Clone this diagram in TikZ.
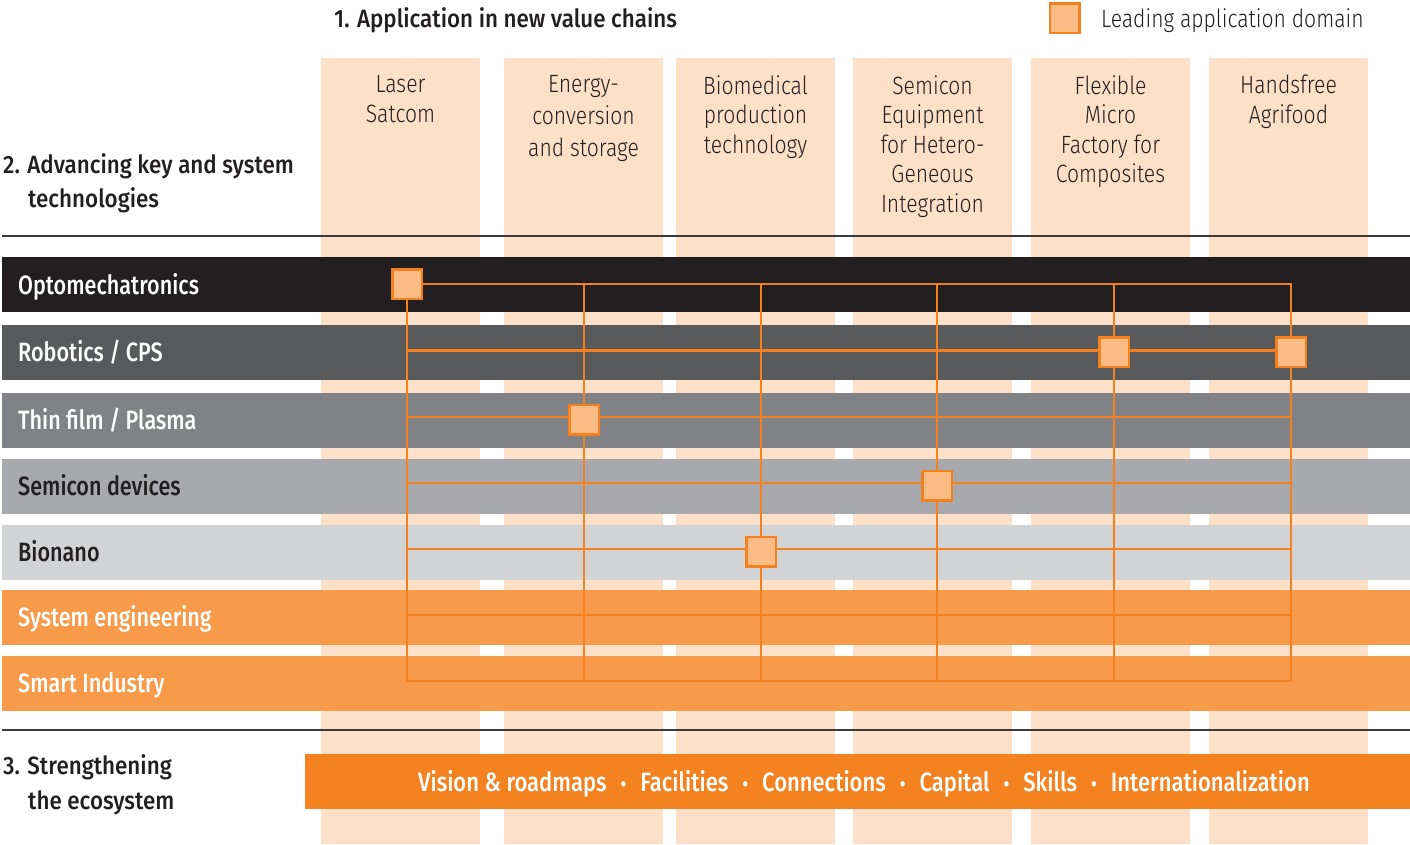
\documentclass[tikz,border=0pt]{standalone}
\usepackage{fontspec}
\setmainfont{Fira Sans}[FakeStretch=0.8]
\newfontfamily\lightf{Fira Sans Light}[FakeStretch=0.845]
\newfontfamily\medf{Fira Sans Medium}[FakeStretch=0.815]
\newfontfamily\ecof{Fira Sans Medium}[FakeStretch=0.83]
\newfontfamily\headf{Fira Sans Medium}[FakeStretch=0.895]
\definecolor{peach}{HTML}{FDE0C7}
\definecolor{rowA}{HTML}{231F20}
\definecolor{rowB}{HTML}{58595B}
\definecolor{rowC}{HTML}{808285}
\definecolor{rowD}{HTML}{A7A9AC}
\definecolor{rowE}{HTML}{D1D3D4}
\definecolor{rowF}{HTML}{F79A49}
\definecolor{ecobar}{HTML}{F48221}
\definecolor{gridor}{HTML}{F48120}
\definecolor{sqfill}{HTML}{FBBB85}
\definecolor{darktext}{HTML}{231F20}
\definecolor{sepline}{HTML}{3A3A3A}
\newcommand{\ecodot}{\hspace{14pt}{\fontsize{21}{21}\selectfont •}\hspace{14pt}}
\tikzset{
  gridline/.style={draw=gridor, line width=2.6pt, line cap=rect},
  leadbox/.style={rectangle, draw=gridor, fill=sqfill, line width=2.5pt, minimum size=29.5pt, inner sep=0pt},
  collabel/.style={anchor=north, inner sep=0pt, align=center, text=darktext, font=\lightf\fontsize{25}{30}\selectfont},
  rowlabel/.style={anchor=base west, inner sep=0pt, font=\medf\fontsize{26.5}{27}\selectfont},
  header/.style={anchor=base west, inner sep=0pt, text=darktext, font=\headf\fontsize{25}{27}\selectfont},
  sepstyle/.style={draw=sepline, line width=1.4pt}
}
\begin{document}
\begin{tikzpicture}[x=1pt,y=-1pt]
\useasboundingbox (0,0) rectangle (1410,844);
\fill[white] (0,0) rectangle (1410,844);
% application columns
\foreach \a/\b in {321/480,504/663,676/835,853/1012,1031/1190,1209/1368}
  \fill[peach] (\a,58) rectangle (\b,844);
% technology rows
\fill[rowA] (2,257) rectangle (1410,312);
\fill[rowB] (2,325) rectangle (1410,380);
\fill[rowC] (2,393) rectangle (1410,448);
\fill[rowD] (2,459) rectangle (1410,514);
\fill[rowE] (2,525) rectangle (1410,580);
\fill[rowF] (2,590) rectangle (1410,645);
\fill[rowF] (2,656) rectangle (1410,711);
% ecosystem bar
\fill[ecobar] (305,754) rectangle (1410,809);
% separators
\draw[sepstyle] (2,236) -- (1410,236);
\draw[sepstyle] (2,730) -- (1410,730);
% grid coordinates
\foreach \i/\x in {1/407,2/584,3/761,4/937,5/1114,6/1291}
  \foreach \j/\y in {1/284,2/350.5,3/417,4/483,5/549,6/615,7/681}
    \coordinate (g\i-\j) at (\x,\y);
\foreach \j in {1,...,7} \draw[gridline] (g1-\j) -- (g6-\j);
\foreach \i in {1,...,6} \draw[gridline] (g\i-1) -- (g\i-7);
% leading application squares
\node[leadbox] (sqLaser) at (g1-1) {};
\node[leadbox, yshift=-2.5pt] (sqEnergy) at (g2-3) {};
\node[leadbox, yshift=-2.5pt] (sqBio) at (g3-5) {};
\node[leadbox, yshift=-2.5pt] (sqSemi) at (g4-4) {};
\node[leadbox, yshift=-1.5pt] (sqFlex) at (g5-2) {};
\node[leadbox, yshift=-1.5pt] (sqHands) at (g6-2) {};
% legend
\node[leadbox] (legsq) at (1064.5,18) {};
\node[anchor=base west, inner sep=0pt, text=darktext, font=\lightf\fontsize{25}{27}\selectfont] (legtxt) at (1101,27) {Leading application domain};
% headers
\node[header] (h1) at (334,27) {1. Application in new value chains};
\node[header] (h2a) at (3,173) {2. Advancing key and system};
\node[header] (h2b) at (28,207) {technologies};
\node[header] (h3a) at (3,774) {3. Strengthening};
\node[header] (h3b) at (28,809) {the ecosystem};
% column labels
\node[collabel] (c1) at (400.5,75) {Laser\\Satcom};
\node[collabel, font=\lightf\fontsize{25}{32}\selectfont] (c2) at (583.5,75) {Energy-\\conversion\\and storage};
\node[collabel, font=\lightf\fontsize{25}{29.5}\selectfont] (c3) at (755.5,75) {Biomedical\\production\\technology};
\node[collabel, font=\lightf\fontsize{25}{29.5}\selectfont] (c4) at (932.5,75) {Semicon\\Equipment\\for Hetero-\\Geneous\\Integration};
\node[collabel, font=\lightf\fontsize{25}{29.5}\selectfont] (c5) at (1110.5,75) {Flexible\\Micro\\Factory for\\Composites};
\node[collabel] (c6) at (1288.5,75) {Handsfree\\Agrifood};
% row labels
\node[rowlabel, text=white] (r1) at (18,294) {Optomechatronics};
\node[rowlabel, text=white] (r2) at (18,361) {Robotics / CPS};
\node[rowlabel, text=white] (r3) at (18,429) {Thin film / Plasma};
\node[rowlabel, text=darktext] (r4) at (18,495) {Semicon devices};
\node[rowlabel, text=darktext] (r5) at (18,561) {Bionano};
\node[rowlabel, text=white] (r6) at (18,626) {System engineering};
\node[rowlabel, text=white] (r7) at (18,692) {Smart Industry};
% ecosystem text
\node[anchor=base, inner sep=0pt, text=white, font=\ecof\fontsize{26.5}{27}\selectfont] (eco) at (864,791)
  {Vision \& roadmaps\ecodot Facilities\ecodot Connections\ecodot Capital\ecodot Skills\ecodot Internationalization};
\end{tikzpicture}
\end{document}
